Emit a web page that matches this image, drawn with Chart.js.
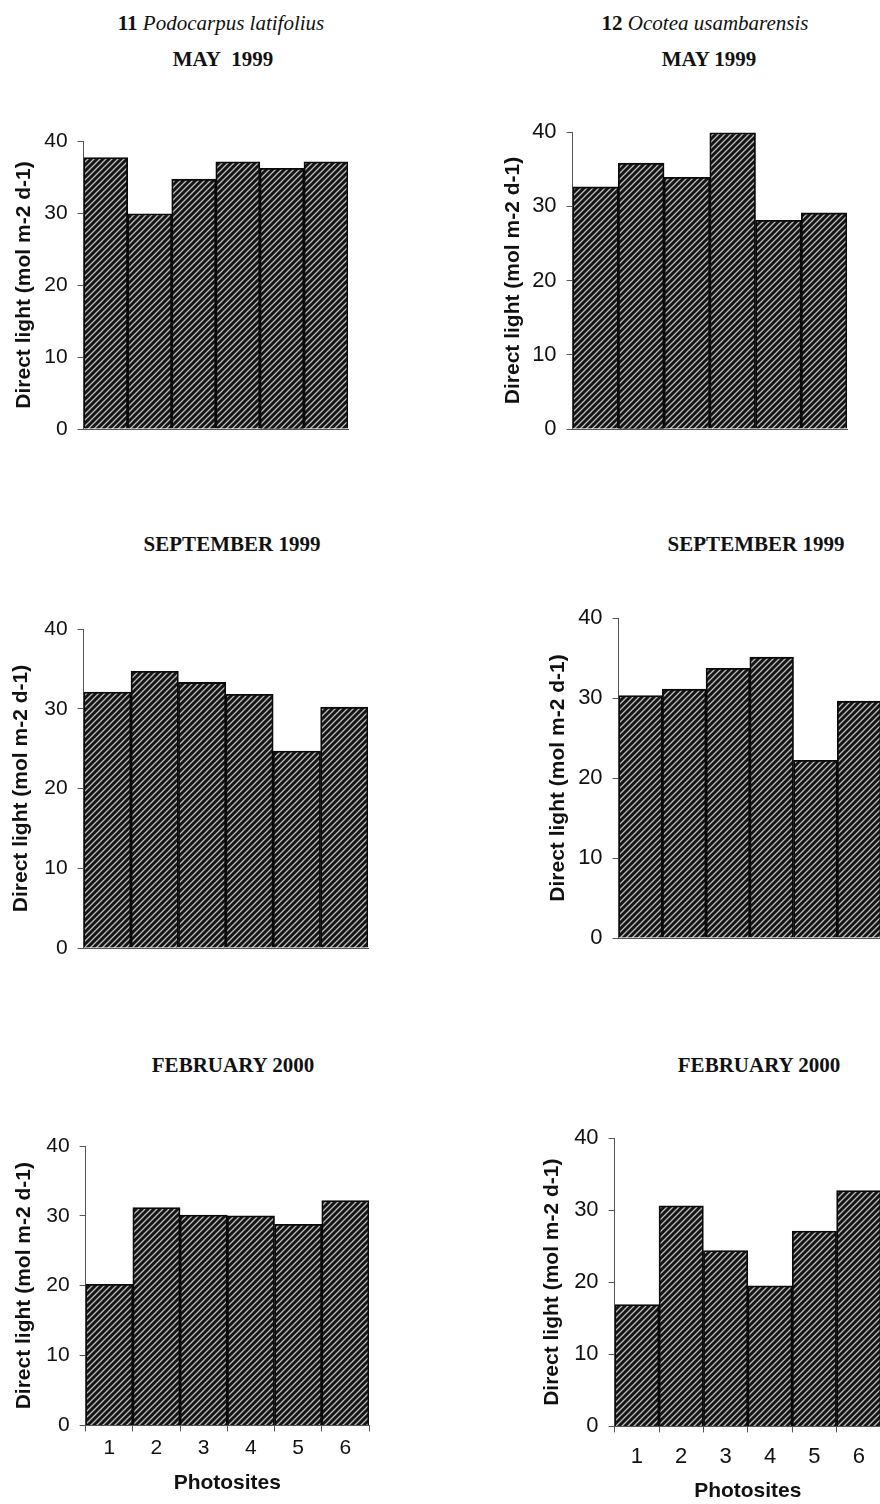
<!DOCTYPE html>
<html>
<head>
<meta charset="utf-8">
<script src="https://cdn.jsdelivr.net/npm/chart.js@4.4.0/dist/chart.umd.min.js"></script>
<style>
  html, body { margin: 0; padding: 0; background: #fff; width: 880px; height: 1504px; overflow: hidden; position: relative; }
  canvas { position: absolute; }
  .ttl { position: absolute; transform: translate(-50%, -50%); font-family: "Liberation Serif", "Times New Roman", serif; font-weight: bold; font-size: 21px; color: #111; white-space: nowrap; }
  .ttl i { font-weight: normal; }
</style>
</head>
<body>
<div class="ttl" style="left:221px;top:23px">11 <i>Podocarpus latifolius</i></div>
<div class="ttl" style="left:223px;top:59px">MAY&nbsp; 1999</div>
<div class="ttl" style="left:705px;top:23px">12 <i>Ocotea usambarensis</i></div>
<div class="ttl" style="left:709px;top:59px">MAY 1999</div>
<div class="ttl" style="left:232px;top:544px">SEPTEMBER 1999</div>
<div class="ttl" style="left:756px;top:544px">SEPTEMBER 1999</div>
<div class="ttl" style="left:233px;top:1065px">FEBRUARY 2000</div>
<div class="ttl" style="left:759px;top:1065px">FEBRUARY 2000</div>

<script>
/* ---- datos ---- */
const photosites = ["1", "2", "3", "4", "5", "6"];
const yTicks = [0, 10, 20, 30, 40];

const podoMay = [37.7, 29.9, 34.7, 37.1, 36.2, 37.1];
const podoSep = [32.1, 34.7, 33.3, 31.8, 24.7, 30.2];
const podoFeb = [20.2, 31.2, 30.1, 30.0, 28.8, 32.2];

const ocoMay = [32.6, 35.8, 33.9, 39.9, 28.1, 29.1];
const ocoSep = [30.3, 31.1, 33.7, 35.1, 22.2, 29.6];
const ocoFeb = [16.9, 30.6, 24.4, 19.5, 27.1, 32.7];

const yTitle = "Direct light (mol m-2 d-1)";
const xTitle = "Photosites";

/* posicion de cada panel (eje y, 40, 0, fin de barras) */
const panels = [
  { values: podoMay, axisX: 84,  y40: 141,  y0: 429,  end: 348, titleX: 25,  bottom: false, fs: 21 },
  { values: ocoMay,  axisX: 573, y40: 132,  y0: 429,  end: 847, titleX: 514, bottom: false, fs: 22 },
  { values: podoSep, axisX: 84,  y40: 629,  y0: 948,  end: 368, titleX: 22,  bottom: false, fs: 21 },
  { values: ocoSep,  axisX: 619, y40: 618,  y0: 938,  end: 881, titleX: 559, bottom: false, fs: 22 },
  { values: podoFeb, axisX: 86,  y40: 1146, y0: 1425, end: 369, titleX: 25,  bottom: true, fs: 21, labPad: 4,  xTitleY: 1483 },
  { values: ocoFeb,  axisX: 615, y40: 1138, y0: 1426, end: 881, titleX: 553, bottom: true, fs: 22, labPad: 11, xTitleY: 1491 },
];

/* relleno rayado de las barras */
let hatch = (ctx) => {
  const s = 6;
  const c = document.createElement("canvas");
  c.width = s;
  c.height = s;
  const g = c.getContext("2d");
  g.fillStyle = "#141414";
  g.fillRect(0, 0, s, s);
  g.strokeStyle = "#bdbdbd";
  g.lineWidth = 1.3;
  g.beginPath();
  for (let k = -1; k <= 1; k++) {
    g.moveTo(k * s - 1, s + 1);
    g.lineTo(k * s + s + 1, -1);
  }
  g.stroke();
  return ctx.createPattern(c, "repeat");
};

panels.forEach((p) => {
  const titleSize = 21;
  const left = p.titleX - titleSize * 0.6;
  const top = p.y40 - 14;
  const xTitleSize = 21;
  const xh = p.bottom ? (p.xTitleY + xTitleSize * 0.6) - p.y0 : 16;
  const width = p.end - left + 6;
  const height = p.y0 - top + xh;

  const cv = document.createElement("canvas");
  cv.width = Math.round(width);
  cv.height = Math.round(height);
  cv.style.left = left + "px";
  cv.style.top = top + "px";
  document.body.appendChild(cv);
  const ctx = cv.getContext("2d");

  const dataset = {
    labels: photosites,
    datasets: [
      {
        data: p.values,
        backgroundColor: hatch(ctx),
        borderColor: "#0a0a0a",
        borderWidth: 1.8,
        barPercentage: 1,
        categoryPercentage: 1,
      },
    ],
  };

  const config = {
    type: "bar",
    data: dataset,
    options: {
      responsive: false,
      animation: false,
      layout: { padding: { left: 0, top: 14, right: 6, bottom: 0 } },
      plugins: { legend: { display: false }, tooltip: { enabled: false } },
      scales: {
        x: {
          grid: { display: p.bottom, drawOnChartArea: false, tickLength: 6, color: "#555" },
          border: { display: true, color: "#555", width: 1 },
          ticks: {
            display: p.bottom,
            padding: p.labPad || 0,
            color: "#111",
            font: { family: "Liberation Sans, Arial, sans-serif", size: p.fs },
          },
          title: {
            display: p.bottom,
            text: xTitle,
            color: "#111",
            padding: { top: 0, bottom: 0 },
            font: { family: "Liberation Sans, Arial, sans-serif", size: xTitleSize, weight: "bold" },
          },
          afterFit: (s) => {
            s.height = xh;
            s.paddingLeft = 0;
            s.paddingRight = 0;
          },
        },
        y: {
          min: 0,
          max: 40,
          afterBuildTicks: (s) => { s.ticks = yTicks.map((v) => ({ value: v })); },
          grid: { drawOnChartArea: false, tickLength: 6, color: "#555" },
          border: { display: true, color: "#555", width: 1 },
          ticks: {
            padding: 10,
            color: "#111",
            font: { family: "Liberation Sans, Arial, sans-serif", size: p.fs },
          },
          title: {
            display: true,
            text: yTitle,
            color: "#111",
            padding: { top: 0, bottom: 0 },
            font: { family: "Liberation Sans, Arial, sans-serif", size: titleSize, weight: "bold" },
          },
          afterFit: (s) => {
            s.width = p.axisX - left;
            s.paddingTop = 0;
            s.paddingBottom = 0;
          },
        },
      },
    },
  };
  const chart = new Chart(ctx, config);
});
</script>
</body>
</html>
